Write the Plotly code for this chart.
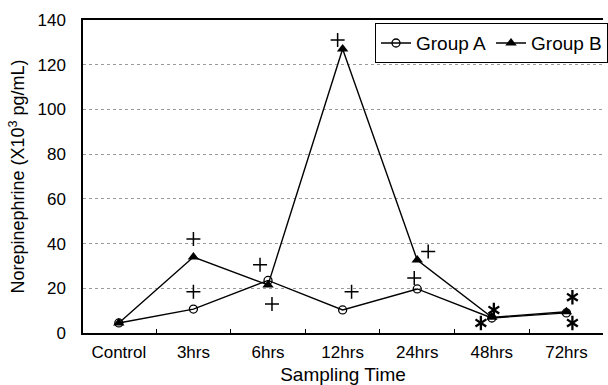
import plotly.graph_objects as go

# Sampling points and mean norepinephrine levels (x10^3 pg/mL)
categories = ["Control", "3hrs", "6hrs", "12hrs", "24hrs", "48hrs", "72hrs"]
group_a = [4.5, 10.7, 23.5, 10.3, 19.7, 6.7, 9.0]
group_b = [4.5, 34.0, 21.5, 127.0, 32.6, 7.0, 9.5]

# Significance marks: category index and level of each mark
plus_idx = [1, 1, 2, 2, 3, 3, 4, 4]
plus_val = [42.0, 18.5, 30.5, 13.0, 131.0, 18.5, 24.6, 36.5]
star_idx = [5, 5, 6, 6]
star_val = [4.5, 10.3, 16.0, 4.5]

# Horizontal nudges (category units) so marks sit beside the data points
PLUS_DX = [0.0, 0.0, -0.107, 0.053, -0.067, 0.12, -0.04, 0.147]
STAR_DX = [-0.147, 0.027, 0.08, 0.08]

FONT = "Liberation Sans, Arial, sans-serif"
xs = list(range(len(categories)))

fig = go.Figure()
fig.add_trace(go.Scatter(
    x=xs, y=group_a, name="Group A", mode="lines+markers",
    line=dict(color="black", width=1.4),
    marker=dict(symbol="circle-open", size=8, color="black", line=dict(width=1.3)),
))
fig.add_trace(go.Scatter(
    x=xs, y=group_b, name="Group B", mode="lines+markers",
    line=dict(color="black", width=1.4),
    marker=dict(symbol="triangle-up", size=10, color="black"),
))
fig.add_trace(go.Scatter(
    x=[i + d for i, d in zip(plus_idx, PLUS_DX)], y=plus_val, mode="markers",
    showlegend=False, hoverinfo="skip",
    marker=dict(symbol="cross-thin-open", size=10, color="black", line=dict(width=1.5, color="black")),
))
# six-armed asterisks built from two overlaid Y shapes
star_x = [i + d for i, d in zip(star_idx, STAR_DX)]
for sym in ("y-up-open", "y-down-open"):
    fig.add_trace(go.Scatter(
        x=star_x, y=star_val, mode="markers",
        showlegend=False, hoverinfo="skip",
        marker=dict(symbol=sym, size=9, color="black", line=dict(width=2.3, color="black")),
    ))
# invisible trace that carries the boundary tick axis
fig.add_trace(go.Scatter(x=[0], y=[0], xaxis="x2", mode="markers",
                         marker=dict(opacity=0), showlegend=False, hoverinfo="skip"))

xr = [-0.48, 6.49]
fig.update_layout(
    width=608, height=385,
    margin=dict(l=83, r=0, t=20, b=52),
    paper_bgcolor="white", plot_bgcolor="white",
    font=dict(family=FONT, size=17, color="black"),
    showlegend=True,
    legend=dict(
        x=0.562, y=0.99, xanchor="left", yanchor="top",
        orientation="h", bgcolor="white",
        bordercolor="black", borderwidth=1,
        font=dict(size=19, family=FONT),
        itemwidth=30, tracegroupgap=0,
    ),
    xaxis=dict(
        range=xr, tickmode="array", tickvals=xs, ticktext=categories,
        showgrid=False, zeroline=False, ticks="",
        showline=True, linecolor="black", linewidth=2, mirror=True,
        title=dict(text="Sampling Time", font=dict(size=19), standoff=10),
        tickfont=dict(size=17), ticklabelstandoff=3,
    ),
    xaxis2=dict(
        range=xr, overlaying="x",
        tickmode="array", tickvals=[i + 0.5 for i in xs[:-1]],
        ticks="inside", ticklen=4, tickwidth=1, tickcolor="black",
        showticklabels=False, showgrid=False, zeroline=False, showline=False,
        side="bottom",
    ),
    yaxis=dict(
        range=[0, 140], dtick=20, tick0=0,
        showgrid=True, gridcolor="#9a9a9a", griddash="dot", gridwidth=1,
        zeroline=False, showline=True, linecolor="black", linewidth=1.5,
        ticks="", tickfont=dict(size=17), ticklabelstandoff=12,
        title=dict(text="Norepinephrine (X10<sup>3</sup> pg/mL)", font=dict(size=18), standoff=8),
    ),
)

fig.write_html("out.html")
